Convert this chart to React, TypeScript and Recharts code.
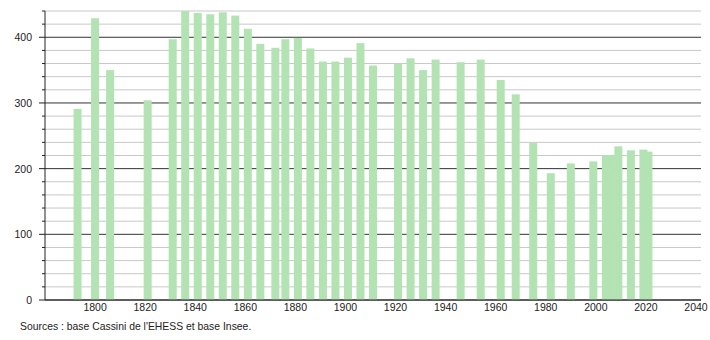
import { BarChart, Bar, XAxis, YAxis, CartesianGrid } from 'recharts'

const years = [
  1793, 1800, 1806, 1821, 1831, 1836, 1841, 1846, 1851, 1856,
  1861, 1866, 1872, 1876, 1881, 1886, 1891, 1896, 1901, 1906,
  1911, 1921, 1926, 1931, 1936, 1946, 1954, 1962, 1968, 1975,
  1982, 1990, 1999, 2004, 2006, 2009, 2014, 2019, 2021,
]
const population = [
  291, 429, 350, 304, 397, 440, 437, 435, 438, 433,
  413, 390, 384, 397, 399, 383, 363, 363, 369, 391,
  357, 360, 368, 350, 366, 362, 366, 335, 313, 239,
  193, 208, 211, 220, 221, 234, 228, 229, 226,
]
const xTicks = [1800, 1820, 1840, 1860, 1880, 1900, 1920, 1940, 1960, 1980, 2000, 2020, 2040]
const yTicks = [0, 20, 40, 60, 80, 100, 120, 140, 160, 180, 200, 220, 240, 260, 280, 300, 320, 340, 360, 380, 400, 420, 440]

const data = years.map((y, i) => ({ year: y, pop: population[i] }))

const FONT = '"Liberation Sans", Arial, sans-serif'
const BAR = '#b3e3b3'
const Y_MAX = 440

function BarShape(props: any) {
  const { x, y, width, height } = props
  const cx = x + width / 2
  return <rect x={cx - 4} y={y} width={8} height={height} fill={BAR} />
}

function GridLine(props: any) {
  const { x1, x2, y1, y, height } = props
  const value = Math.round(((y + height - y1) / height) * Y_MAX)
  const major = value % 100 === 0
  return <line x1={x1} x2={x2} y1={y1} y2={y1} stroke={major ? '#333' : '#c8c8c8'} strokeWidth={1} />
}

function YTick(props: any) {
  const { x, y, payload } = props
  const major = payload.value % 100 === 0
  return (
    <g>
      <line x1={x - (major ? 6 : 3)} x2={x} y1={y} y2={y} stroke="#222" />
      {major && (
        <text x={x - 13} y={y} dy={4} textAnchor="end" fontSize={10.5} fill="#222" fontFamily={FONT}>
          {payload.value}
        </text>
      )}
    </g>
  )
}

export default function App() {
  return (
    <div style={{ position: 'absolute', left: 0, top: 0, width: 710, height: 340, background: '#fff' }}>
      <BarChart width={710} height={340} data={data} margin={{ top: 11, right: 9, bottom: 10, left: 1 }}>
        <CartesianGrid vertical={false} horizontal={GridLine} />
        <XAxis
          dataKey="year"
          type="number"
          domain={[1780, 2042]}
          ticks={xTicks}
          height={30}
          tickLine={false}
          tickSize={0}
          tickMargin={4}
          axisLine={{ stroke: '#222' }}
          tick={{ fontSize: 10.5, fill: '#222', fontFamily: FONT }}
          allowDataOverflow
        />
        <YAxis
          type="number"
          domain={[0, Y_MAX]}
          ticks={yTicks}
          interval={0}
          width={44}
          tickLine={false}
          tickSize={0}
          tickMargin={0}
          axisLine={{ stroke: '#222' }}
          tick={YTick}
          allowDataOverflow
        />
        <Bar dataKey="pop" shape={BarShape} isAnimationActive={false} />
      </BarChart>
      <div style={{ position: 'absolute', left: 20, top: 321, fontSize: 10.4, fontFamily: FONT, color: '#222' }}>
        Sources : base Cassini de l'EHESS et base Insee.
      </div>
    </div>
  )
}
